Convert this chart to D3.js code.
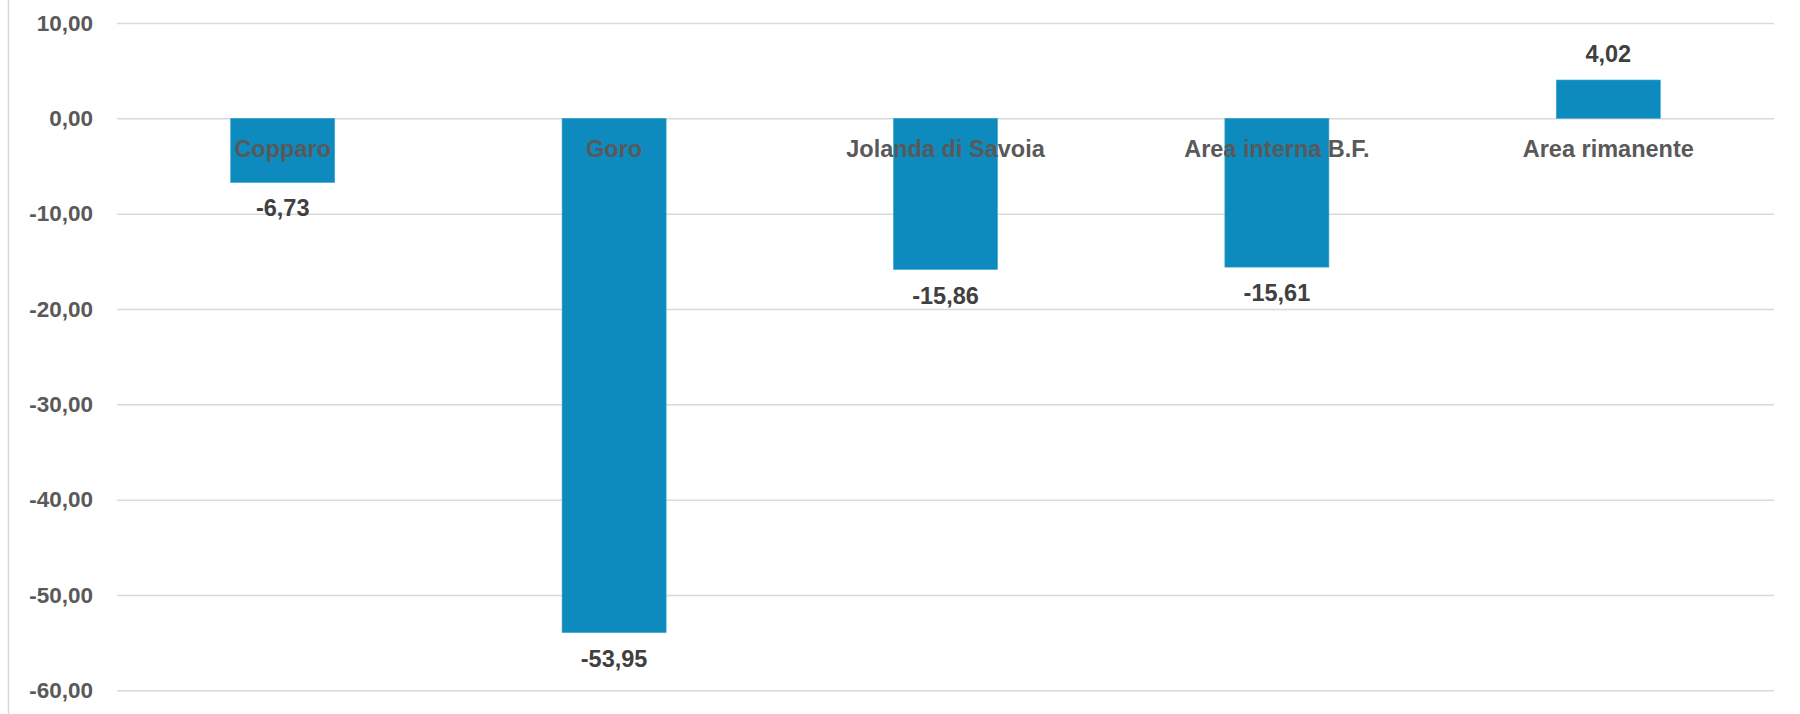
<!DOCTYPE html>
<html>
<head>
<meta charset="utf-8">
<script src="https://cdn.jsdelivr.net/npm/d3@7"></script>
<style>
  html, body { margin: 0; padding: 0; background: #ffffff; }
  svg { display: block; font-family: "Liberation Sans", Arial, sans-serif; }
</style>
</head>
<body>
<svg id="chart" width="1800" height="714"></svg>
<script>
const categories = ["Copparo", "Goro", "Jolanda di Savoia", "Area interna B.F.", "Area rimanente"];
const values = [-6.73, -53.95, -15.86, -15.61, 4.02];
const tickValues = [10, 0, -10, -20, -30, -40, -50, -60];

const fmt = v => v.toFixed(2).replace(".", ",");

const svg = d3.select("#chart");
const W = 1800, H = 714;
const plot = { left: 117, right: 1774, top: 23, bottom: 690.3 };

const x = d3.scaleBand()
  .domain(categories)
  .range([plot.left, plot.right])
  .paddingInner(0.686)
  .paddingOuter(0.343);

const y = d3.scaleLinear()
  .domain([-60, 10])
  .range([plot.bottom, plot.top]);

// left border line
svg.append("line")
  .attr("x1", 8.5).attr("x2", 8.5)
  .attr("y1", 0).attr("y2", H)
  .attr("stroke", "#d9d9d9").attr("stroke-width", 1.5);

// gridlines + tick labels via axis
const yAxis = d3.axisLeft(y)
  .tickValues(tickValues)
  .tickSize(-(plot.right - plot.left))
  .tickPadding(24)
  .tickFormat(fmt);

const gAxis = svg.append("g")
  .attr("transform", `translate(${plot.left},0)`)
  .call(yAxis);
gAxis.select(".domain").remove();
gAxis.selectAll(".tick line")
  .attr("stroke", "#d9d9d9").attr("stroke-width", 1.5);
gAxis.selectAll(".tick text")
  .attr("fill", "#595959")
  .attr("font-size", "22.5px")
  .attr("font-weight", "bold")
  .attr("font-family", "Liberation Sans, Arial, sans-serif");

// bars
svg.append("g").selectAll("rect")
  .data(values)
  .join("rect")
  .attr("x", (d, i) => x(categories[i]))
  .attr("width", x.bandwidth())
  .attr("y", d => y(Math.max(0, d)))
  .attr("height", d => Math.abs(y(d) - y(0)))
  .attr("fill", "#0e8bbe")
  .attr("stroke", "#3ea6cf")
  .attr("stroke-width", 0.6);

// category labels (just below zero line)
svg.append("g").selectAll("text")
  .data(categories)
  .join("text")
  .attr("x", d => x(d) + x.bandwidth() / 2)
  .attr("y", y(0) + 39)
  .attr("text-anchor", "middle")
  .attr("fill", "#595959")
  .attr("font-size", "23.5px")
  .attr("font-weight", "bold")
  .text(d => d);

// data labels
svg.append("g").selectAll("text")
  .data(values)
  .join("text")
  .attr("x", (d, i) => x(categories[i]) + x.bandwidth() / 2)
  .attr("y", d => d < 0 ? y(d) + 34 : y(d) - 18)
  .attr("text-anchor", "middle")
  .attr("fill", "#404040")
  .attr("font-size", "23.5px")
  .attr("font-weight", "bold")
  .text(d => fmt(d));
</script>
</body>
</html>
